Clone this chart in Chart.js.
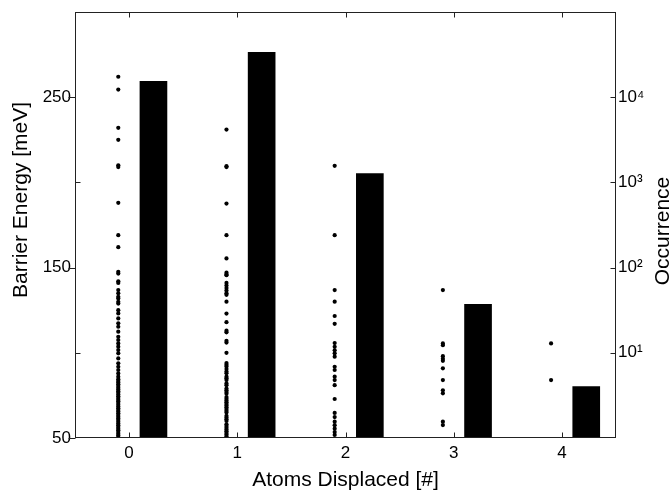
<!DOCTYPE html>
<html>
<head>
<meta charset="utf-8">
<script src="https://cdn.jsdelivr.net/npm/chart.js@4.4.1/dist/chart.umd.min.js"></script>
<style>
  html, body { margin: 0; padding: 0; background: #fff; }
</style>
</head>
<body>
<canvas id="chart" width="671" height="494"></canvas>
<script>
// Data
const atomsDisplaced = [0, 1, 2, 3, 4];
const occurrence = [15400, 33700, 1270, 37, 4];

// barrier energies (meV) of the events, one list per number of displaced atoms
const barrier0 = [262, 254.5, 232, 225, 210, 209, 188, 169, 162, 147.5, 146.5, 142, 141, 136.8, 134.9,
  132.9, 131.9, 129.9, 128.9, 125, 123.1, 120.2, 117.3, 115.3, 112.4, 109.4, 107.5, 105.5, 103.6,
  101.6, 99.7, 96.7, 93.8, 91.8, 89.9, 87.9, 86, 84.5, 83.5, 82.5, 81.5, 80.5, 79.5, 78.5, 77.5,
  76.5, 75.5, 74.5, 73.5, 72.5, 71.5, 70.5, 69.5, 68.5, 67.5, 66.5, 65.5, 64.5, 63.5, 62.5, 61.5,
  60.5, 59.5, 58.5, 57.5, 56.5, 55.5, 54.5, 53.5, 52.5, 51.5, 50.5];
const barrier1 = [231, 209.5, 209, 187.6, 169, 155.4, 147, 146, 145.5, 141, 139.5, 138, 136.5, 135,
  134, 130, 123, 118, 113, 112, 107, 106, 100, 94, 93, 92, 90.5, 89, 88, 86, 85, 84, 82, 81, 79, 78,
  77, 76, 74, 73, 72, 71, 70, 69, 68, 67, 66, 65, 63, 62, 61, 60, 58, 57, 56, 55, 54, 53, 52, 51];
const barrier2 = [209.7, 169, 136.8, 130, 121.6, 117, 105.7, 103.5, 101.5, 99.7, 97.7, 91.8, 89.9,
  86, 84, 81, 72.9, 64.7, 62.3, 59.6, 57.5, 55.5, 53.5, 51.8];
const barrier3 = [136.8, 105.5, 104.5, 98, 96.5, 95.3, 90.9, 84, 78, 76.2, 59.6, 57.6];
const barrier4 = [105.5, 84];
const barrierByAtoms = [barrier0, barrier1, barrier2, barrier3, barrier4];

// tick labels
const xTickLabels = ['0', '1', '2', '3', '4'];
const energyTicks = [50, 100, 150, 200, 250];
const energyLabels = ['50', '', '150', '', '250'];
const occurrenceTicks = [1, 10, 100, 1000, 10000, 100000];
const occurrenceLabels = ['', '10\u00b9', '10\u00b2', '10\u00b3', '10\u2074', ''];

// where the dots and bars sit next to each integer
const DOT_SHIFT = -0.1;
const BAR_SHIFT = 0.225;

const FONT = "'Liberation Sans', Arial, Helvetica, sans-serif";

const dotPoints = [];
barrierByAtoms.forEach((list, i) => {
  list.forEach(e => dotPoints.push({ x: atomsDisplaced[i] + DOT_SHIFT, y: e }));
});
const barPoints = occurrence.map((v, i) => ({ x: atomsDisplaced[i] + BAR_SHIFT, y: v }));

// no extra room for half labels, keeps the plot box where it is
const noPad = s => { s.paddingTop = 0; s.paddingBottom = 0; s.paddingLeft = 0; s.paddingRight = 0; };

// frame, inward ticks and the two vertical axis titles
const axisFrame = {
  id: 'axisFrame',
  afterDraw(chart) {
    const { ctx, chartArea: a, scales } = chart;
    const L = Math.round(a.left) + 0.5, R = Math.round(a.right) - 0.5;
    const T = Math.round(a.top) + 0.5, B = Math.round(a.bottom) - 0.5;
    ctx.save();
    ctx.strokeStyle = '#222';
    ctx.lineWidth = 1;
    ctx.strokeRect(L, T, R - L, B - T);
    ctx.beginPath();
    atomsDisplaced.forEach(v => {
      const px = Math.round(scales.x.getPixelForValue(v)) + 0.5;
      ctx.moveTo(px, B); ctx.lineTo(px, B - 5);
      ctx.moveTo(px, T); ctx.lineTo(px, T + 5);
    });
    energyTicks.forEach((v, i) => {
      const py = Math.round(scales.y.getPixelForValue(v)) + 0.5;
      if (energyLabels[i] !== '') {
        ctx.moveTo(L - 7, py); ctx.lineTo(L, py);
      } else {
        ctx.moveTo(L, py); ctx.lineTo(L + 5, py);
      }
    });
    occurrenceTicks.slice(1, -1).forEach(v => {
      const py = Math.round(scales.y2.getPixelForValue(v)) + 0.5;
      ctx.moveTo(R - 5, py); ctx.lineTo(R, py);
    });
    ctx.stroke();

    ctx.fillStyle = '#000';
    ctx.font = '21px ' + FONT;
    ctx.textAlign = 'center';
    ctx.textBaseline = 'middle';
    ctx.save();
    ctx.translate(21, 200);
    ctx.rotate(-Math.PI / 2);
    ctx.fillText('Barrier Energy [meV]', 0, 0);
    ctx.restore();
    ctx.save();
    ctx.translate(663, 231);
    ctx.rotate(-Math.PI / 2);
    ctx.fillText('Occurrence', 0, 0);
    ctx.restore();
    ctx.restore();
  }
};

const ctx = document.getElementById('chart').getContext('2d');
const chart = new Chart(ctx, {
  type: 'scatter',
  data: {
    datasets: [
      {
        type: 'scatter',
        label: 'Barrier energy',
        data: dotPoints,
        xAxisID: 'x',
        yAxisID: 'y',
        backgroundColor: '#000',
        borderWidth: 0,
        pointRadius: 2.1,
        order: 1
      },
      {
        type: 'bar',
        label: 'Occurrence',
        data: barPoints,
        xAxisID: 'x',
        yAxisID: 'y2',
        backgroundColor: '#000',
        borderWidth: 0,
        barThickness: 27,
        order: 2
      }
    ]
  },
  options: {
    responsive: false,
    animation: false,
    layout: { padding: { top: 12, left: 0, right: 0, bottom: 0 } },
    plugins: { legend: { display: false }, tooltip: { enabled: false } },
    scales: {
      x: {
        type: 'linear',
        position: 'bottom',
        min: -0.5,
        max: 4.5,
        offset: false,
        grid: { display: false, drawTicks: false, offset: false },
        border: { display: false },
        afterBuildTicks: s => { s.ticks = atomsDisplaced.map(v => ({ value: v })); },
        afterFit: s => { s.height = 56; noPad(s); },
        ticks: {
          color: '#000',
          font: { family: FONT, size: 17 },
          padding: 5,
          maxRotation: 0,
          callback: (v, i) => xTickLabels[i]
        },
        title: {
          display: true,
          text: 'Atoms Displaced [#]',
          color: '#000',
          font: { family: FONT, size: 21 },
          padding: { top: 0, bottom: 1 }
        }
      },
      y: {
        type: 'linear',
        position: 'left',
        min: 50,
        max: 300,
        grid: { display: false, drawTicks: false },
        border: { display: false },
        afterBuildTicks: s => { s.ticks = energyTicks.map(v => ({ value: v })); },
        afterFit: s => { s.width = 75; noPad(s); },
        ticks: {
          color: '#000',
          font: { family: FONT, size: 17 },
          padding: 4,
          callback: (v, i) => energyLabels[i]
        }
      },
      y2: {
        type: 'logarithmic',
        position: 'right',
        min: 1,
        max: 100000,
        grid: { display: false, drawTicks: false },
        border: { display: false },
        afterBuildTicks: s => { s.ticks = occurrenceTicks.map(v => ({ value: v })); },
        afterFit: s => { s.width = 55; noPad(s); },
        ticks: {
          color: '#000',
          font: { family: FONT, size: 17 },
          padding: 2,
          callback: (v, i) => occurrenceLabels[i]
        }
      }
    }
  },
  plugins: [axisFrame]
});
</script>
</body>
</html>
